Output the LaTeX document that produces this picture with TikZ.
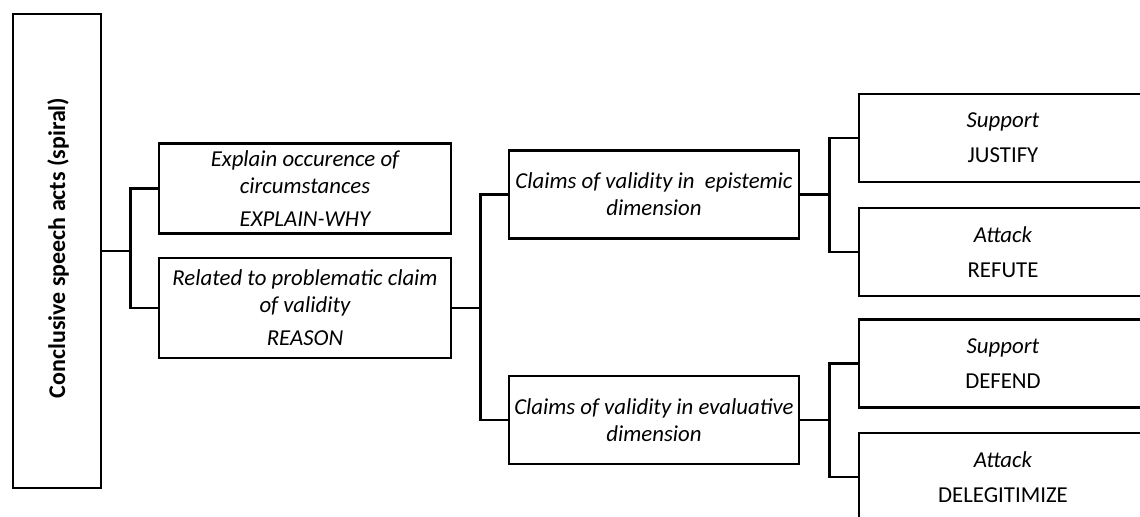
\documentclass[tikz,border=0pt]{standalone}
\usepackage{fontspec}
\setmainfont{Carlito}
\usetikzlibrary{calc}

\begin{document}
\begin{tikzpicture}[x=0.5pt,y=-0.5pt,
    box/.style={draw, line width=1.4pt, inner sep=0pt, align=center,
        font=\fontsize{11.4}{13.5}\selectfont},
    actbox/.style={box, minimum width=146pt, font=\fontsize{11.4}{13.5}\selectfont\itshape},
    claimbox/.style={box, minimum width=145pt, minimum height=44pt, font=\fontsize{11.4}{13.5}\selectfont\itshape},
    leafbox/.style={box, minimum width=144pt, minimum height=44pt},
    link/.style={line width=1.4pt}]

            \path[use as bounding box, clip] (0,0) rectangle (1140,517);

            % root
            \node[box, minimum width=44pt, minimum height=237pt] (root) at (57,251) {};
            \node[rotate=90, font=\fontsize{12}{14}\selectfont\bfseries] (rootlbl) at (58,248) {Conclusive speech acts (spiral)};

            % first level
            \node[actbox, minimum height=45pt] (explain) at (305,188.5)
                {Explain occurence of\\circumstances\\[3pt]EXPLAIN-WHY};
            \node[actbox, minimum height=50pt] (reason) at (305,308)
                {Related to problematic claim\\of validity\\[3pt]REASON};

            % second level
            \node[claimbox] (epist) at (654,194.5) {Claims of validity in\ \ epistemic\\dimension};
            \node[claimbox] (evalu) at (654,420) {Claims of validity in evaluative\\dimension};

            % leaves
            \node[leafbox] (justify) at (1003,138) {\textit{Support}\\[4pt]JUSTIFY};
            \node[leafbox] (refute) at (1003,252) {\textit{Attack}\\[4pt]REFUTE};
            \node[leafbox] (defend) at (1003,363.5) {\textit{Support}\\[4pt]DEFEND};
            \node[leafbox] (delegit) at (1003,477) {\textit{Attack}\\[4pt]DELEGITIMIZE};

            % connectors
            \coordinate (j1) at ($(root.east)+(28,0)$);
            \coordinate (j2) at ($(reason.east)+(28,0)$);
            \coordinate (j3) at ($(epist.east)+(29,0)$);
            \coordinate (j4) at ($(evalu.east)+(29,0)$);

            \draw[link] (root.east) -- (j1);
            \draw[link] (explain.west) -| (j1) |- (reason.west);
            \draw[link] (reason.east) -- (j2);
            \draw[link] (epist.west) -| (j2) |- (evalu.west);
            \draw[link] (epist.east) -- (j3);
            \draw[link] (justify.west) -| (j3) |- (refute.west);
            \draw[link] (evalu.east) -- (j4);
            \draw[link] (defend.west) -| (j4) |- (delegit.west);
        \end{tikzpicture}
\end{document}
